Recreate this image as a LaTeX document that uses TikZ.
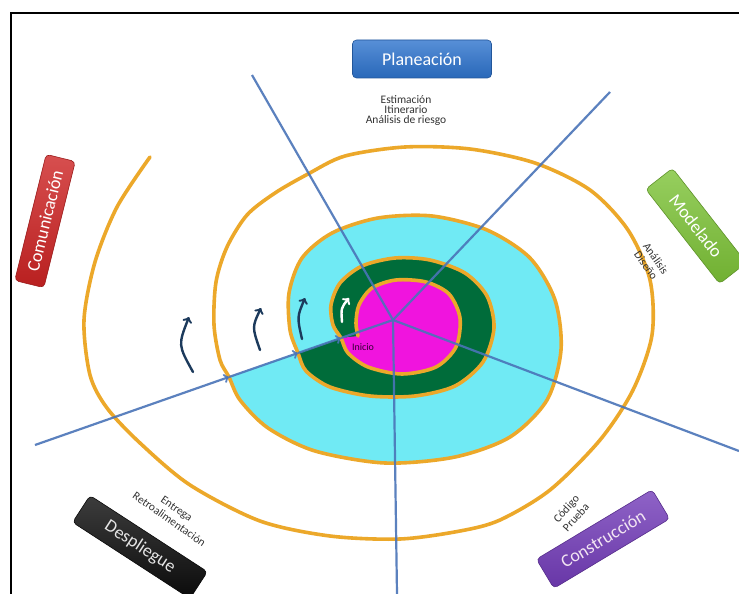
\documentclass[tikz,border=0pt]{standalone}
\usepackage{fontspec}
\setmainfont{Carlito}
\usetikzlibrary{positioning,shapes}
\definecolor{naranja}{RGB}{236,168,42}
\definecolor{celeste}{RGB}{112,234,244}
\definecolor{verde}{RGB}{0,108,58}
\definecolor{rosa}{RGB}{240,20,222}
\definecolor{azulrayo}{RGB}{74,116,184}
\definecolor{azulgiro}{RGB}{28,58,92}
\definecolor{azulcaja}{RGB}{45,115,205}
\definecolor{rojocaja}{RGB}{205,35,35}
\definecolor{verdecaja}{RGB}{125,195,55}
\definecolor{negrocaja}{RGB}{12,12,12}
\definecolor{moradocaja}{RGB}{115,60,185}
\tikzset{
  caja/.style={rounded corners=4pt, minimum height=32pt, inner sep=2pt,
    draw=#1!75!black, top color=#1!80!white, bottom color=#1!90!black, line width=0.6pt,
    text=white, font=\fontsize{18}{18}\selectfont},
  tarea/.style={font=\fontsize{11.5}{10}\selectfont, text=black!80, align=center, inner sep=1pt},
  espiral/.style={naranja, line width=3.6pt, line cap=round},
  rayo/.style={azulrayo, line width=2.2pt, opacity=0.9},
  giro/.style={azulgiro, line width=2.4pt, ->, line cap=round},
}
\begin{document}
\begin{tikzpicture}[x=1pt,y=-1pt]
		\useasboundingbox (0,0) rectangle (739,594);
		\fill[white] (0,0) rectangle (739,594);
		\draw[line width=2.5pt] (11,594) -- (11,13) -- (739,13);
		% bandas de color
		\fill[celeste] plot[smooth] coordinates {(229,377) (240,400) (268,428) (315,451) (385,463) (455,457) (510,437) (547,400) (561,350) (555,300) (530,258) (487,230) (432,216) (378,218) (332,233) (302,258) (289,293) (290,330) (298,353)} -- cycle;
		\fill[verde] plot[smooth] coordinates {(298,353) (306,371) (330,387) (370,396) (415,396) (455,386) (483,362) (494,328) (487,296) (465,273) (430,260) (395,258) (362,266) (340,283) (331,305) (333,325) (341,338)} -- cycle;
		\fill[rosa] plot[smooth] coordinates {(341,338) (348,353) (368,367) (402,374) (436,367) (456,347) (460,318) (449,294) (426,282) (396,280) (372,288) (359,305) (356,323) (358,336)} -- cycle;
		% espiral
		\draw[espiral] plot[smooth] coordinates {(150,157) (117,207) (95,262) (84,320) (90,375) (107,408) (140,443) (190,485) (260,521) (330,536) (400,539) (460,531) (500,520) (550,490) (600,440) (633,390) (652,335) (650,280) (628,230) (590,190) (535,163) (470,149) (405,147) (345,156) (308,174) (275,193) (247,215) (227,247) (216,282) (214,325) (220,360) (229,377) (240,400) (268,428) (315,451) (385,463) (455,457) (510,437) (547,400) (561,350) (555,300) (530,258) (487,230) (432,216) (378,218) (332,233) (302,258) (289,293) (290,330) (298,353) (306,371) (330,387) (370,396) (415,396) (455,386) (483,362) (494,328) (487,296) (465,273) (430,260) (395,258) (362,266) (340,283) (331,305) (333,325) (341,338) (348,353) (368,367) (402,374) (436,367) (456,347) (460,318) (449,294) (426,282) (396,280) (372,288) (359,305) (356,323) (358,336)};
		% rayos
		\coordinate (O) at (393,320);
		\coordinate (Rn) at (252,75);
		\coordinate (Rne) at (610,92);
		\coordinate (Rse) at (739,451);
		\coordinate (Rs) at (397,594);
		\coordinate (Rw) at (35,445);
		\coordinate (A2) at (229,377);
		\coordinate (A3) at (298,353);
		\coordinate (A4) at (341,338);
		\draw[rayo] (Rn) -- (O);
		\draw[rayo] (Rne) -- (O);
		\draw[rayo] (O) -- (Rse);
		\draw[rayo] (O) -- (Rs);
		\draw[rayo,->] (Rw) -- (A2);
		\draw[rayo,->] (A2) -- (A3);
		\draw[rayo,->] (A3) -- (A4);
		\draw[rayo] (A4) -- (O);
		% giros
		\draw[giro] (193,372) .. controls (178,345) .. (189,317);
		\draw[giro] (260,350) .. controls (252,327) .. (261,308);
		\draw[giro] (302,339) .. controls (297,317) .. (305,298);
		\draw[giro,white] (342,322) .. controls (341,308) .. (349,298);
		\node[font=\fontsize{10}{10}\selectfont, text=violet!40!black] (ini) at (363,347) {Inicio};
		% actividades
		\node[caja=azulcaja, minimum width=139pt, minimum height=38pt] (plan) at (422,59) {Planeación};
		\node[tarea] (tplan) at (406,111) {Estimación\\Itinerario\\Análisis de riesgo};
		\node[caja=rojocaja, minimum width=130pt, minimum height=30pt, rotate=76] (com) at (45,221) {Comunicación};
		\node[caja=verdecaja, minimum width=120pt, minimum height=34pt, rotate=-52] (mod) at (696,226) {Modelado};
		\node[tarea, rotate=-55, font=\fontsize{11.5}{12}\selectfont] (tmod) at (651,262) {Análisis\\Diseño};
		\node[caja=negrocaja, minimum width=140pt, minimum height=32pt, rotate=-33, text=black!10] (des) at (140,547) {Despliegue};
		\node[tarea, rotate=-35, font=\fontsize{11.5}{13}\selectfont] (tdes) at (173,514) {Entrega\\Retroalimentación};
		\node[caja=moradocaja, minimum width=135pt, minimum height=34pt, rotate=31, text=violet!10] (con) at (603,539) {Construcción};
		\node[tarea, rotate=48, font=\fontsize{11.5}{13}\selectfont] (tcon) at (571,513) {Código\\Prueba};
\end{tikzpicture}
\end{document}
